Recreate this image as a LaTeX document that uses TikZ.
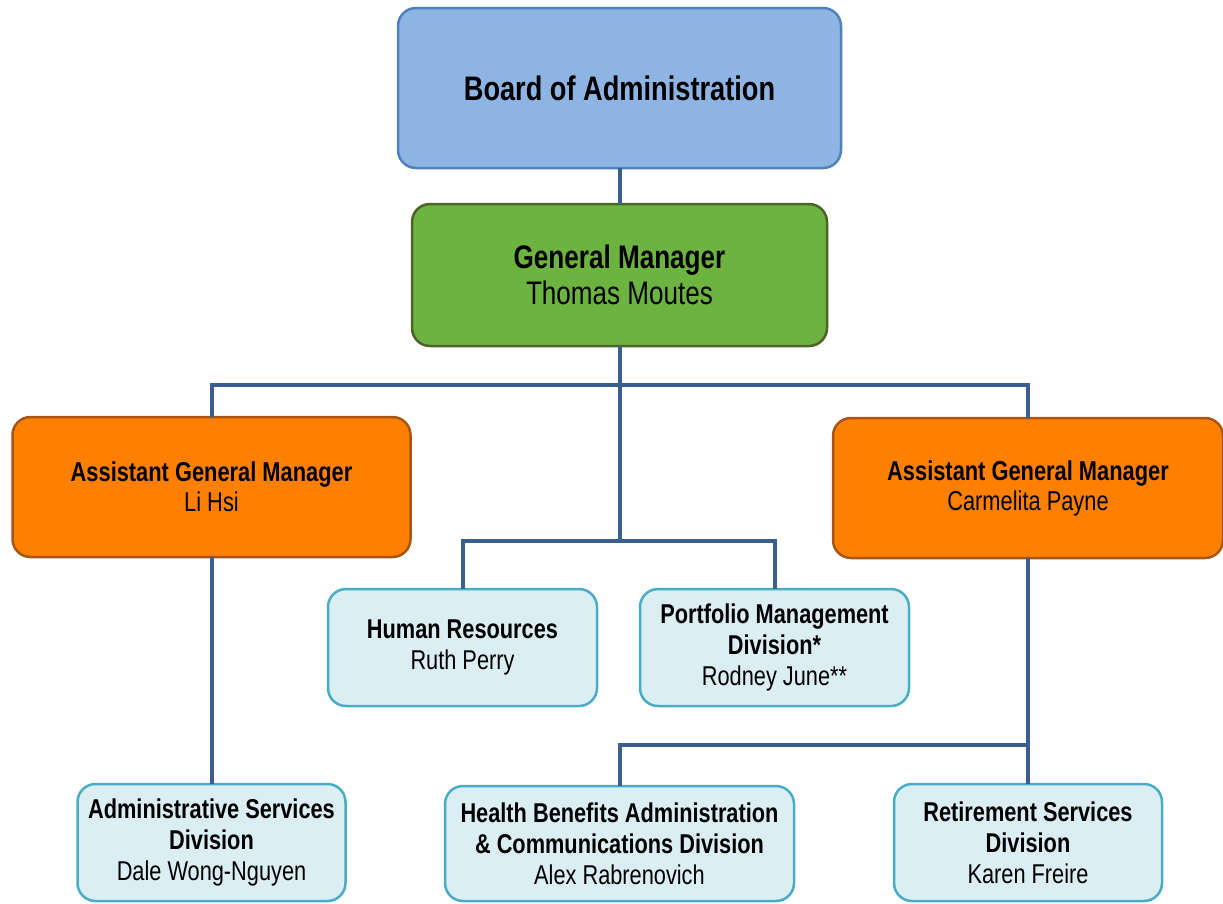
\documentclass[tikz,border=0pt]{standalone}
\usepackage{fontspec}
\setmainfont{Liberation Sans}[FakeStretch=0.8]
\definecolor{boardfill}{HTML}{8EB4E3}
\definecolor{boardline}{HTML}{4F81BD}
\definecolor{gmfill}{HTML}{6DB33F}
\definecolor{gmline}{HTML}{4F6228}
\definecolor{agmfill}{HTML}{FF8000}
\definecolor{agmline}{HTML}{A65512}
\definecolor{unitfill}{HTML}{DAEEF3}
\definecolor{unitline}{HTML}{4BACC6}
\definecolor{linkblue}{HTML}{3A5F8F}
\begin{document}
\begin{tikzpicture}[x=1pt,y=-1pt,
  box/.style={rounded corners=18pt, line width=2.5pt, align=center,
    inner sep=0pt, outer sep=0pt, text=black},
  boardbox/.style={box, fill=boardfill, draw=boardline,
    font=\fontsize{34}{38}\selectfont\bfseries},
  gmbox/.style={box, fill=gmfill, draw=gmline,
    font=\fontsize{32.6}{36.5}\selectfont},
  agmbox/.style={box, fill=agmfill, draw=agmline,
    font=\fontsize{27.3}{30}\selectfont},
  unitbox/.style={box, fill=unitfill, draw=unitline,
    font=\fontsize{27.2}{31}\selectfont},
  link/.style={draw=linkblue, line width=4pt}]

\useasboundingbox (0,0) rectangle (1223,903);

% boxes
\node[boardbox, minimum width=443pt, minimum height=160pt] (board) at (619.5,88)
  {Board of Administration};
\node[gmbox, minimum width=415pt, minimum height=142pt] (gm) at (619.5,275)
  {\textbf{General Manager}\\Thomas Moutes};
\node[agmbox, minimum width=398pt, minimum height=140pt] (agmL) at (211.5,487)
  {\textbf{Assistant General Manager}\\Li Hsi};
\node[agmbox, minimum width=390pt, minimum height=140pt] (agmR) at (1028,488)
  {\textbf{Assistant General Manager}\\Carmelita Payne};
\node[unitbox, minimum width=269pt, minimum height=117pt] (hr) at (462.5,647.5)
  {\textbf{Human Resources}\\Ruth Perry};
\node[unitbox, minimum width=269pt, minimum height=117pt] (pm) at (774.5,647.5)
  {\textbf{Portfolio Management}\\\textbf{Division*}\\Rodney June**};
\node[unitbox, minimum width=268pt, minimum height=117pt] (adm) at (211.5,842.5)
  {\textbf{Administrative Services}\\\textbf{Division}\\Dale Wong-Nguyen};
\node[unitbox, minimum width=349pt, minimum height=115pt] (hb) at (619.5,843.5)
  {\textbf{Health Benefits Administration}\\\textbf{\& Communications Division}\\Alex Rabrenovich};
\node[unitbox, minimum width=268pt, minimum height=117pt] (ret) at (1028,842.5)
  {\textbf{Retirement Services}\\\textbf{Division}\\Karen Freire};

% junction points
\coordinate (j1) at (619.5,385);
\coordinate (j2) at (619.5,541);
\coordinate (j3) at (1028,745);

% connectors
\draw[link] (board.south) -- (gm.north);
\draw[link] (gm.south) -- (j1) -- (j2);
\draw[link] (agmL.north) -- (agmL.north |- j1) -- (agmR.north |- j1) -- (agmR.north);
\draw[link] (hr.north) -- (hr.north |- j2) -- (pm.north |- j2) -- (pm.north);
\draw[link] (agmL.south) -- (adm.north);
\draw[link] (agmR.south) -- (ret.north);
\draw[link] (j3) -| (hb.north);
\end{tikzpicture}
\end{document}
